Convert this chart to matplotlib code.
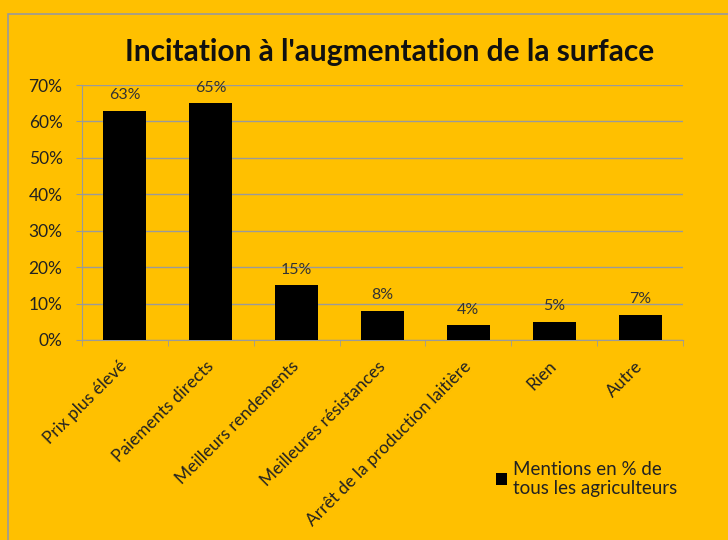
import numpy as np
import matplotlib.pyplot as plt
import matplotlib.transforms as mtransforms
from matplotlib.patches import Rectangle
from matplotlib.ticker import PercentFormatter

plt.rcParams['font.family'] = ['Lato', 'DejaVu Sans']

# Données
categories = ["Prix plus élevé", "Paiements directs", "Meilleurs rendements",
              "Meilleures résistances", "Arrêt de la production laitière",
              "Rien", "Autre"]
valeurs = [63, 65, 15, 8, 4, 5, 7]
etiquettes = ["63%", "65%", "15%", "8%", "4%", "5%", "7%"]
legende = "Mentions en % de\ntous les agriculteurs"
titre = "Incitation à l'augmentation de la surface"

fond = "#FFC000"
gris = "#9a9a9a"

fig = plt.figure(figsize=(7.28, 5.4), dpi=100, facecolor=fond)
ax = fig.add_axes([82 / 728, 1 - 340 / 540, (683 - 82) / 728, (340 - 85) / 540])
ax.set_facecolor(fond)

# cadre du graphique
fig.patches.append(Rectangle((8 / 728, -0.1), 1.1, 1 - 14 / 540 + 0.1,
                             transform=fig.transFigure, fill=False,
                             edgecolor=gris, linewidth=1.2))

x = np.arange(len(categories))
barres = ax.bar(x, valeurs, width=0.5, color="black", zorder=3,
                label=legende)

for xi, v, lab in zip(x, valeurs, etiquettes):
    ax.text(xi, v + 2.3, lab, ha="center", va="bottom", fontsize=11.5,
            color="#333333")

ax.set_xlim(-0.5, len(categories) - 0.5)
ax.set_ylim(0, 70)
ax.set_yticks(np.arange(0, 71, 10))
ax.yaxis.set_major_formatter(PercentFormatter(decimals=0))
ax.grid(axis="y", color=gris, linewidth=1, zorder=0)

ax.set_xticks(x)
ax.set_xticklabels(categories, rotation=45, ha="right", va="center",
                   rotation_mode="anchor", fontsize=12.5, color="#222222")
decalage = mtransforms.ScaledTranslation(-6 / 100, 0, fig.dpi_scale_trans)
for t in ax.get_xticklabels():
    t.set_transform(t.get_transform() + decalage)
ax.set_xticks(np.arange(-0.5, len(categories), 1), minor=True)
ax.tick_params(axis="x", which="major", length=0, pad=17)
ax.tick_params(axis="x", which="minor", length=4, color=gris)
ax.tick_params(axis="y", length=4, color=gris, labelsize=12.5,
               labelcolor="#222222", pad=10)

for s in ["top", "right"]:
    ax.spines[s].set_visible(False)
ax.spines["left"].set_color(gris)
ax.spines["bottom"].set_color(gris)

fig.text(390 / 728, 1 - 52 / 540, titre, ha="center", va="center",
         fontsize=21.5, fontweight="bold", color="#111111")

leg = fig.legend(handles=[barres], labels=[legende], loc="center left",
                 bbox_to_anchor=(479 / 728, 1 - 479 / 540), frameon=False,
                 fontsize=13.5, handlelength=0.6, handleheight=0.6,
                 handletextpad=0.3, labelspacing=0.2, labelcolor="#222222")

fig.savefig("out.png", dpi=100, facecolor=fond)
